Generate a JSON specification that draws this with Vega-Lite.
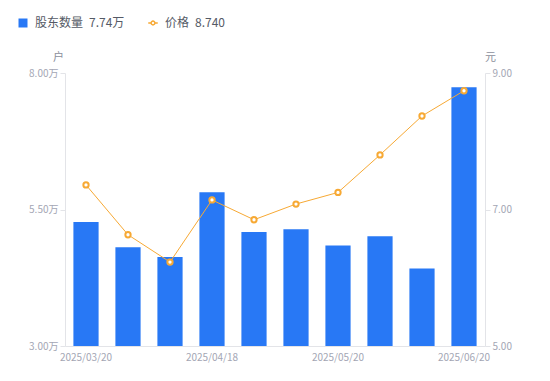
{
  "$schema": "https://vega.github.io/schema/vega-lite/v6.json",
  "width": 420,
  "height": 273,
  "autosize": "none",
  "padding": {"left": 65, "top": 73, "right": 65, "bottom": 35},
  "background": "white",
  "config": {
    "view": {"stroke": null},
    "font": "Noto Sans CJK SC",
    "axis": {"labelFont": "Noto Sans CJK SC", "titleFont": "Noto Sans CJK SC", "labelColor": "#a3a6b4", "labelFontSize": 10, "domainColor": "#e3e4e8", "tickColor": "#e3e4e8", "grid": false, "titleColor": "#8c8f9c", "titleFontSize": 11, "titleFontWeight": "normal"},
    "legend": {"labelFont": "Noto Sans CJK SC", "labelFontSize": 12, "labelColor": "#555a66"}
  },
  "data": {"values": [
    {"date": "2025/03/20", "holders": 5.27, "price": 7.36},
    {"date": "2025/03/31", "holders": 4.81, "price": 6.63},
    {"date": "2025/04/10", "holders": 4.63, "price": 6.23},
    {"date": "2025/04/18", "holders": 5.815, "price": 7.14},
    {"date": "2025/04/30", "holders": 5.09, "price": 6.85},
    {"date": "2025/05/09", "holders": 5.14, "price": 7.08},
    {"date": "2025/05/20", "holders": 4.84, "price": 7.25},
    {"date": "2025/05/30", "holders": 5.01, "price": 7.80},
    {"date": "2025/06/10", "holders": 4.42, "price": 8.37},
    {"date": "2025/06/20", "holders": 7.74, "price": 8.74}
  ]},
  "encoding": {
    "x": {"field": "date", "type": "ordinal", "sort": null, "title": null,
      "scale": {"paddingInner": 0.4, "paddingOuter": 0.2},
      "axis": {"labelAngle": 0, "ticks": false, "labelPadding": 6, "domainColor": "#e3e4e8",
        "labelExpr": "indexof(['2025/03/20','2025/04/18','2025/05/20','2025/06/20'], datum.value) >= 0 ? datum.value : ''"}}
  },
  "layer": [
    {
      "mark": {"type": "bar", "color": "#2878F5"},
      "encoding": {
        "y": {"field": "holders", "type": "quantitative", "title": "户",
          "scale": {"domain": [3, 8], "zero": false, "nice": false},
          "axis": {"orient": "left", "values": [3, 5.5, 8], "labelExpr": "format(datum.value, '.2f') + '万'", "tickSize": 5, "labelPadding": 2,
            "titleAngle": 0, "titleX": -7, "titleY": -16, "titleAlign": "center", "titleBaseline": "middle"}},
        "y2": {"datum": 3},
        "color": {"datum": "股东数量", "scale": {"range": ["#2878F5"]},
          "legend": {"title": null, "orient": "none", "legendX": -48, "legendY": -56, "symbolType": "square", "symbolSize": 81, "labelExpr": "datum.label + '\u2002' + '7.74万'", "labelOffset": 6}}
      }
    },
    {
      "mark": {"type": "line", "strokeWidth": 1},
      "encoding": {
        "y": {"field": "price", "type": "quantitative", "title": "元",
          "scale": {"domain": [5, 9], "zero": false, "nice": false},
          "axis": {"orient": "right", "values": [5, 7, 9], "format": ".2f", "tickSize": 5, "labelPadding": 2,
            "titleAngle": 0, "titleX": 5, "titleY": -16, "titleAlign": "center", "titleBaseline": "middle"}},
        "stroke": {"datum": "价格", "scale": {"range": ["#F7A934"]},
          "legend": {"title": null, "orient": "none", "legendX": 82, "legendY": -56, "symbolType": "M-1,0H-0.4M0.4,0H1M-0.4,0A0.4,0.4 0 1,0 0.4,0A0.4,0.4 0 1,0 -0.4,0", "symbolSize": 90, "symbolStrokeWidth": 1.5, "symbolFillColor": "white", "labelExpr": "datum.label + '\u2002' + '8.740'", "labelOffset": 6}}
      }
    },
    {
      "mark": {"type": "point", "filled": true, "fill": "white", "stroke": "#F7A934", "strokeWidth": 2, "size": 28, "opacity": 1},
      "encoding": {
        "y": {"field": "price", "type": "quantitative", "scale": {"domain": [5, 9], "zero": false, "nice": false}, "axis": null}
      }
    }
  ],
  "resolve": {"scale": {"y": "independent"}}
}
